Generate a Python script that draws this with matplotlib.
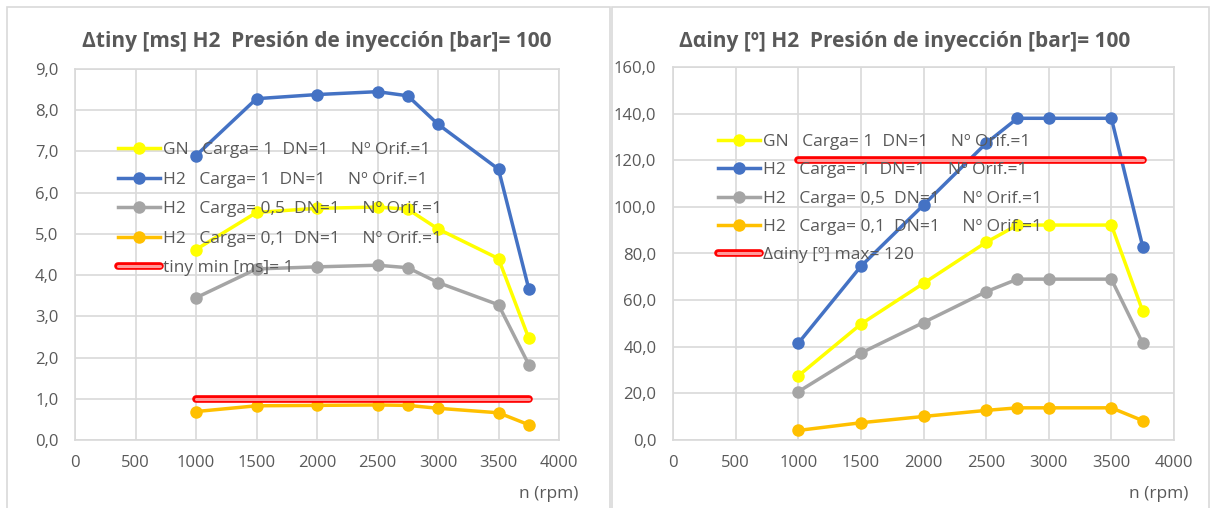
import matplotlib
matplotlib.use("Agg")
import matplotlib.pyplot as plt
import matplotlib.patheffects as pe
from matplotlib.ticker import FuncFormatter, MultipleLocator

plt.rcParams['font.family'] = ['Open Sans', 'DejaVu Sans']

# Engine speed (rpm)
rpm = [1000, 1500, 2000, 2500, 2750, 3000, 3500, 3750]

# Injection duration [ms]
tiny_gn = [4.62, 5.52, 5.62, 5.65, 5.60, 5.12, 4.40, 2.47]
tiny_h2_c1 = [6.90, 8.28, 8.38, 8.45, 8.35, 7.66, 6.57, 3.67]
tiny_h2_c05 = [3.45, 4.15, 4.20, 4.24, 4.18, 3.82, 3.28, 1.83]
tiny_h2_c01 = [0.69, 0.83, 0.84, 0.85, 0.84, 0.77, 0.66, 0.37]
tiny_min = [1, 1]
tiny_min_rpm = [1000, 3750]

# Injection angle [º]
alpha_gn = [27.5, 49.7, 67.2, 84.8, 92.2, 92.2, 92.2, 55.3]
alpha_h2_c1 = [41.5, 74.5, 100.8, 127.3, 138.0, 138.0, 138.0, 83.0]
alpha_h2_c05 = [20.7, 37.3, 50.4, 63.6, 69.0, 69.0, 69.0, 41.5]
alpha_h2_c01 = [4.1, 7.4, 10.1, 12.7, 13.8, 13.8, 13.8, 8.3]
alpha_max = [120, 120]
alpha_max_rpm = [1000, 3750]

labels = [
    "GN   Carga= 1  DN=1     Nº Orif.=1",
    "H2   Carga= 1  DN=1     Nº Orif.=1",
    "H2   Carga= 0,5  DN=1     Nº Orif.=1",
    "H2   Carga= 0,1  DN=1     Nº Orif.=1",
]
colors = ["#FFFF00", "#4472C4", "#A5A5A5", "#FFC000"]

TXT = "#595959"
GRID = "#D9D9D9"

W, H = 1210, 508
fig = plt.figure(figsize=(W / 100, H / 100), dpi=100)


def px_axes(x0, y0, x1, y1):
    return fig.add_axes([x0 / W, 1 - y1 / H, (x1 - x0) / W, (y1 - y0) / H])


# panel frames
for (x0, x1) in [(7, 610), (612, 1209)]:
    fig.add_artist(plt.Rectangle((x0 / W, -0.1), (x1 - x0) / W, 1 - 7 / H + 0.1,
                                 transform=fig.transFigure, fill=False,
                                 edgecolor="#D9D9D9", lw=1.2))


def style(ax, ymax, ystep):
    ax.set_xlim(0, 4000)
    ax.set_ylim(0, ymax)
    ax.xaxis.set_major_locator(MultipleLocator(500))
    ax.yaxis.set_major_locator(MultipleLocator(ystep))
    ax.yaxis.set_major_formatter(FuncFormatter(lambda v, p: f"{v:.1f}".replace(".", ",")))
    ax.grid(True, color=GRID, lw=1.2)
    ax.set_axisbelow(True)
    for s in ax.spines.values():
        s.set_color(GRID)
        s.set_linewidth(1.2)
    ax.tick_params(length=0, colors=TXT, labelsize=12)
    ax.tick_params(axis='y', pad=12)
    ax.tick_params(axis='x', pad=11)


def draw(ax, series, lim_x, lim_y, lim_label, leg_xy, spacing):
    handles = []
    for vals, c in zip(series, colors):
        h, = ax.plot(rpm, vals, color=c, lw=2.5, marker='o', ms=9,
                     markeredgewidth=0, zorder=3)
        handles.append(h)
    h, = ax.plot(lim_x, lim_y, color="#FF9999", lw=2.2, solid_capstyle='round', zorder=4,
                 path_effects=[pe.Stroke(linewidth=5.5, foreground="#FF0000"), pe.Normal()])
    handles.append(h)
    leg = ax.legend(handles, labels + [lim_label], loc='upper left',
                    bbox_to_anchor=(leg_xy[0] / W, 1 - leg_xy[1] / H),
                    bbox_transform=fig.transFigure, frameon=False,
                    fontsize=12.5, labelcolor=TXT, handlelength=2.4,
                    handletextpad=0.2, labelspacing=spacing, borderpad=0,
                    borderaxespad=0)
    leg.set_zorder(10)


ax1 = px_axes(75, 69, 559, 440)
style(ax1, 9, 1)
draw(ax1, [tiny_gn, tiny_h2_c1, tiny_h2_c05, tiny_h2_c01],
     tiny_min_rpm, tiny_min, "tiny min [ms]= 1", (118, 142), 0.77)

ax2 = px_axes(673, 67, 1174, 440)
style(ax2, 160, 20)
draw(ax2, [alpha_gn, alpha_h2_c1, alpha_h2_c05, alpha_h2_c01],
     alpha_max_rpm, alpha_max, "Δαiny [º] max= 120", (718, 134), 0.70)

fig.text(317 / W, 1 - 42 / H, "Δtiny [ms] H2  Presión de inyección [bar]= 100",
         ha='center', va='center', fontsize=15, fontweight='bold', color=TXT)
fig.text(905 / W, 1 - 42 / H, "Δαiny [º] H2  Presión de inyección [bar]= 100",
         ha='center', va='center', fontsize=15, fontweight='bold', color=TXT)

fig.text(578 / W, 1 - 494 / H, "n (rpm)", ha='right', va='center', fontsize=12.5, color=TXT)
fig.text(1188 / W, 1 - 494 / H, "n (rpm)", ha='right', va='center', fontsize=12.5, color=TXT)

fig.savefig("out.png", dpi=100)
